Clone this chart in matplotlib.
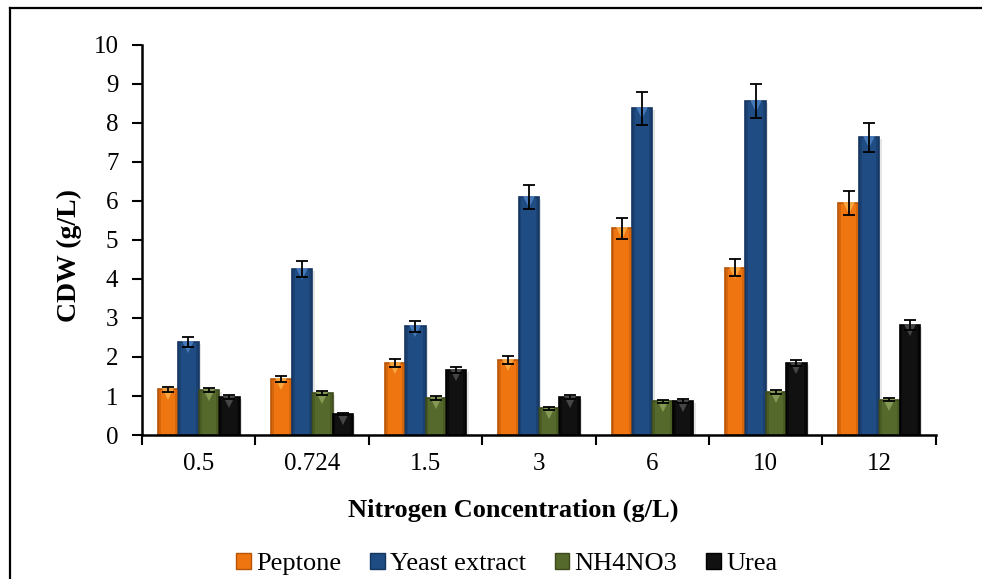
import numpy as np
import matplotlib
matplotlib.use("Agg")
import matplotlib.pyplot as plt
from matplotlib.lines import Line2D
from matplotlib.patches import Rectangle
import matplotlib.transforms as mtransforms

plt.rcParams['font.family'] = ['Liberation Serif', 'DejaVu Serif']

# Nitrogen concentrations (g/L)
categories = ["0.5", "0.724", "1.5", "3", "6", "10", "12"]

# Cell dry weight (g/L) for each nitrogen source
peptone = [1.17, 1.44, 1.85, 1.92, 5.30, 4.29, 5.95]
yeast_extract = [2.38, 4.25, 2.79, 6.11, 8.38, 8.56, 7.63]
nh4no3 = [1.15, 1.07, 0.95, 0.68, 0.87, 1.10, 0.91]
urea = [0.98, 0.54, 1.67, 0.98, 0.87, 1.85, 2.81]

# Standard deviations
peptone_err = [0.07, 0.08, 0.10, 0.10, 0.27, 0.22, 0.30]
yeast_extract_err = [0.12, 0.21, 0.14, 0.31, 0.42, 0.43, 0.38]
nh4no3_err = [0.06, 0.05, 0.05, 0.03, 0.04, 0.06, 0.05]
urea_err = [0.05, 0.03, 0.08, 0.05, 0.05, 0.08, 0.13]

series = [
    ("Peptone", peptone, peptone_err, "#EE7510", "#B85406", "#FBB04A"),
    ("Yeast extract", yeast_extract, yeast_extract_err, "#1F4C82", "#143560", "#4E82C4"),
    ("NH4NO3", nh4no3, nh4no3_err, "#56692C", "#3C4A1C", "#8DA25A"),
    ("Urea", urea, urea_err, "#111111", "#000000", "#505050"),
]

fig = plt.figure(figsize=(9.82, 5.79), dpi=100)
ax = fig.add_axes([0.1446, 0.2487, 0.8084, 0.6736])

x = np.arange(len(categories))
bw = 0.18
offsets = (np.arange(len(series)) - 1.5) * bw

shadow_off = mtransforms.ScaledTranslation(2.5 / 100, -2.0 / 100, fig.dpi_scale_trans)
tri_off = mtransforms.ScaledTranslation(0, -5.0 / 100, fig.dpi_scale_trans)

handles = []
for (name, vals, errs, face, edge, light), off in zip(series, offsets):
    xs = x + off
    # soft drop shadow
    ax.bar(xs, vals, width=bw, color="#000000", alpha=0.10, linewidth=0,
           transform=ax.transData + shadow_off, zorder=1)
    ax.bar(xs, vals, width=bw, color=face, edgecolor=edge, linewidth=1.2, zorder=2)
    # darker side bevels
    ax.bar(xs - bw * 0.42, vals, width=bw * 0.12, color=edge, alpha=0.45,
           linewidth=0, zorder=2.1)
    ax.bar(xs + bw * 0.42, vals, width=bw * 0.12, color=edge, alpha=0.45,
           linewidth=0, zorder=2.1)
    # light chevron at the top of each bar
    ax.plot(xs, vals, linestyle="none", marker="v", markersize=9,
            markerfacecolor=light, markeredgewidth=0, alpha=0.85,
            transform=ax.transData + tri_off, zorder=2.2)
    ax.errorbar(xs, vals, yerr=errs, fmt="none", ecolor="black",
                elinewidth=1.3, capsize=4.5, capthick=1.3, zorder=3)
    handles.append(Rectangle((0, 0), 1, 1, facecolor=face, edgecolor=edge,
                             linewidth=1.0))

ax.set_xlim(-0.5, len(categories) - 0.5)
ax.set_ylim(0, 10)
ax.set_yticks(range(0, 11))
ax.set_xticks(x)
ax.set_xticklabels(categories)
ax.set_xticks(np.arange(-0.5, len(categories)), minor=True)
ax.tick_params(axis="x", which="major", length=0, pad=13, labelsize=18)
ax.tick_params(axis="x", which="minor", length=7, width=1.5, direction="out")
ax.tick_params(axis="y", length=7, width=1.5, direction="out", labelsize=18, pad=10)

for side in ("top", "right"):
    ax.spines[side].set_visible(False)
for side in ("left", "bottom"):
    ax.spines[side].set_linewidth(1.8)

ax.set_ylabel("CDW (g/L)", fontsize=20, fontweight="bold")
ax.yaxis.set_label_coords(-0.075, 0.46)
ax.set_xlabel("Nitrogen Concentration (g/L)", fontsize=19, fontweight="bold")
ax.xaxis.set_label_coords(0.468, -0.162)

fig.legend(handles, [s[0] for s in series], loc="center",
           bbox_to_anchor=(0.516, 0.026), ncol=4, frameon=False, fontsize=19,
           handlelength=0.55, handleheight=0.55, handletextpad=0.2,
           columnspacing=1.1)

# frame lines along the top and left of the figure
fig.add_artist(Line2D([10 / 982, 10 / 982], [0, 1 - 8 / 579], color="black",
                      linewidth=1.6, transform=fig.transFigure))
fig.add_artist(Line2D([10 / 982, 1], [1 - 8 / 579, 1 - 8 / 579], color="black",
                      linewidth=1.6, transform=fig.transFigure))

fig.savefig("out.png", dpi=100)
